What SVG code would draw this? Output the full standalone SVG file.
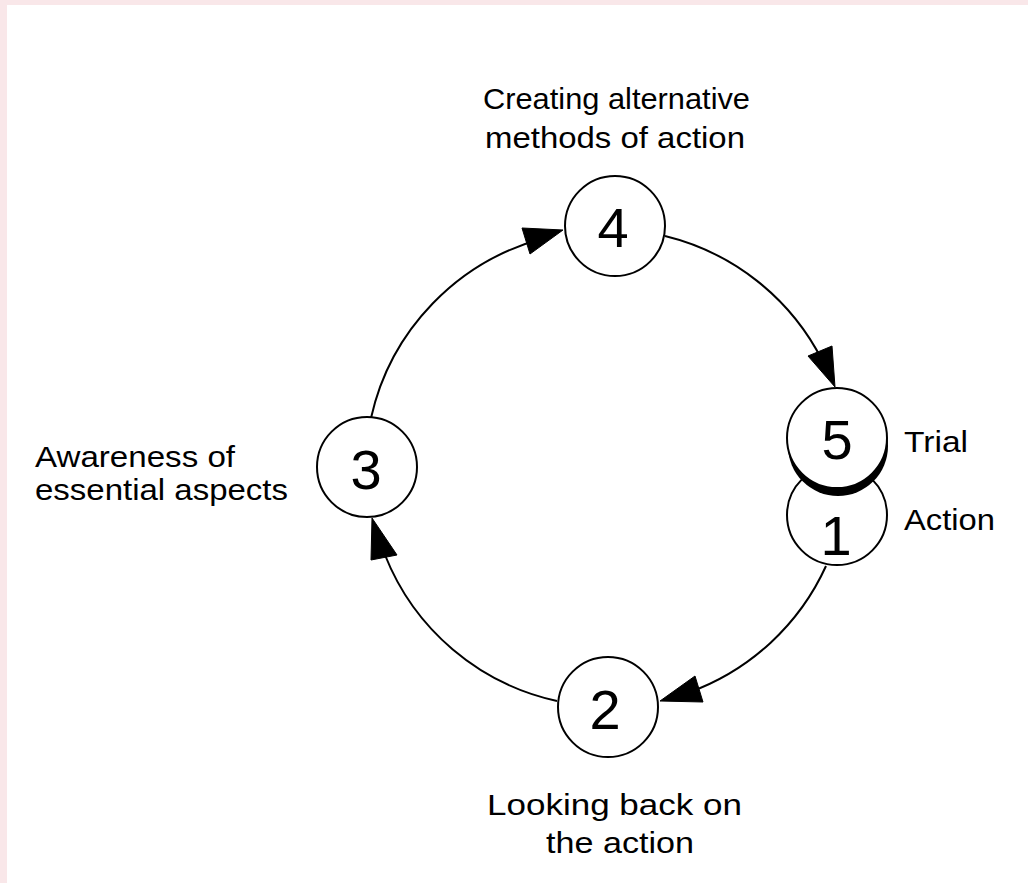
<svg xmlns="http://www.w3.org/2000/svg" width="1028" height="883" viewBox="0 0 1028 883">
<style>
.node{fill:#fff;stroke:#000;stroke-width:2}
.num{font-family:"Liberation Sans",Arial,sans-serif;font-size:56px;fill:#000;text-anchor:middle}
.lbl{font-family:"Liberation Sans",Arial,sans-serif;font-size:30px;fill:#000}
.edge{fill:none;stroke:#000;stroke-width:2}
.head{fill:#000;stroke:#000;stroke-width:1}
</style>
<rect x="0" y="0" width="1028" height="883" fill="#f9e7e9"/>
<rect x="7" y="5" width="1021" height="878" fill="#fff"/>
<g id="connectors">
<path class="edge" d="M 371 418 A 240 240 0 0 1 545 238"/>
<polygon class="head" points="522,228 563,230 530,254"/>
<path class="edge" d="M 665 236 A 240 240 0 0 1 822 360"/>
<polygon class="head" points="808,356 832,346 835,387"/>
<path class="edge" d="M 826 566 A 240 240 0 0 1 690 692"/>
<polygon class="head" points="660,701 695,676 703,702"/>
<path class="edge" d="M 557 701 A 240 240 0 0 1 385 555"/>
<polygon class="head" points="372,518 371,560 397,555"/>
</g>
<g id="node1">
<circle class="node" cx="837" cy="515" r="50"/>
<text class="num" x="836" y="555">1</text>
<text class="lbl" x="904" y="530" textLength="91" lengthAdjust="spacingAndGlyphs">Action</text>
</g>
<g id="node5">
<circle cx="838" cy="446" r="50" fill="#000"/>
<circle class="node" cx="837" cy="438" r="50"/>
<text class="num" x="837" y="459">5</text>
<text class="lbl" x="904" y="452" textLength="64" lengthAdjust="spacingAndGlyphs">Trial</text>
</g>
<g id="node4">
<circle class="node" cx="615" cy="226" r="50"/>
<text class="num" x="613" y="247">4</text>
<text class="lbl" x="483" y="109" textLength="267" lengthAdjust="spacingAndGlyphs">Creating alternative</text>
<text class="lbl" x="485" y="148" textLength="260" lengthAdjust="spacingAndGlyphs">methods of action</text>
</g>
<g id="node3">
<circle class="node" cx="367" cy="467" r="50"/>
<text class="num" x="366" y="489">3</text>
<text class="lbl" x="35" y="467" textLength="200" lengthAdjust="spacingAndGlyphs">Awareness of</text>
<text class="lbl" x="35" y="500" textLength="253" lengthAdjust="spacingAndGlyphs">essential aspects</text>
</g>
<g id="node2">
<circle class="node" cx="608" cy="707" r="50"/>
<text class="num" x="605" y="729">2</text>
<text class="lbl" x="487" y="815" textLength="255" lengthAdjust="spacingAndGlyphs">Looking back on</text>
<text class="lbl" x="546" y="853" textLength="148" lengthAdjust="spacingAndGlyphs">the action</text>
</g>
</svg>
